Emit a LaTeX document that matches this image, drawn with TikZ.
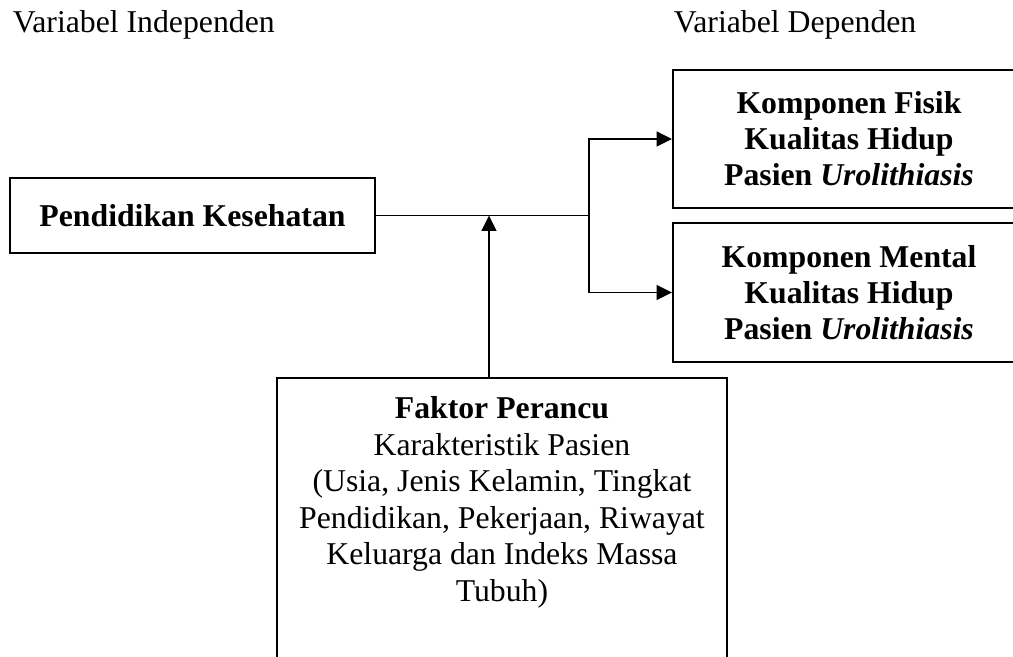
\documentclass[tikz,border=0pt]{standalone}
\usepackage{fontspec}
\setmainfont{Liberation Serif}
\usetikzlibrary{arrows.meta}
\begin{document}
\begin{tikzpicture}[x=0.378pt,y=-0.378pt,line width=0.7pt,
  >={Triangle[length=5.8pt,width=5.6pt]},
  var box/.style={draw,line width=0.8pt,inner sep=0pt,align=center,
    font=\fontsize{12}{13.6}\selectfont\bfseries},
  head/.style={anchor=base west,inner sep=0pt,font=\fontsize{12}{13.8}\selectfont}]
  \useasboundingbox (0,0) rectangle (1013,657);

  \node[head] (indep) at (12,33) {Variabel Independen};
  \node[head] (dep) at (673,33) {Variabel Dependen};

  \node[var box,minimum width=138pt,minimum height=28.4pt] (pendidikan) at (192.5,215.5) {Pendidikan Kesehatan};
  \node[var box,minimum width=133pt,minimum height=52.2pt] (fisik) at (849,139)
    {Komponen Fisik\\Kualitas Hidup\\Pasien \textit{Urolithiasis}};
  \node[var box,minimum width=133pt,minimum height=52.5pt] (mental) at (849,292.5)
    {Komponen Mental\\Kualitas Hidup\\Pasien \textit{Urolithiasis}};
  \node[var box,minimum width=170pt,minimum height=114.5pt,anchor=north] (perancu) at (502,377) {};
  \node[anchor=north,inner sep=0pt,align=center,font=\fontsize{12}{13.8}\selectfont] (perancutext) at (502,396)
    {\textbf{Faktor Perancu}\\Karakteristik Pasien\\(Usia, Jenis Kelamin, Tingkat\\Pendidikan, Pekerjaan, Riwayat\\Keluarga dan Indeks Massa\\Tubuh)};

  \coordinate (cabang) at (589,215.5);
  \coordinate (temu) at (489,215.5);
  \draw (pendidikan) -- (cabang);
  \draw[->] (cabang) |- (fisik);
  \draw[->] (cabang) |- (mental);
  \draw[->] (perancu.north -| temu) -- (temu);
\end{tikzpicture}
\end{document}
